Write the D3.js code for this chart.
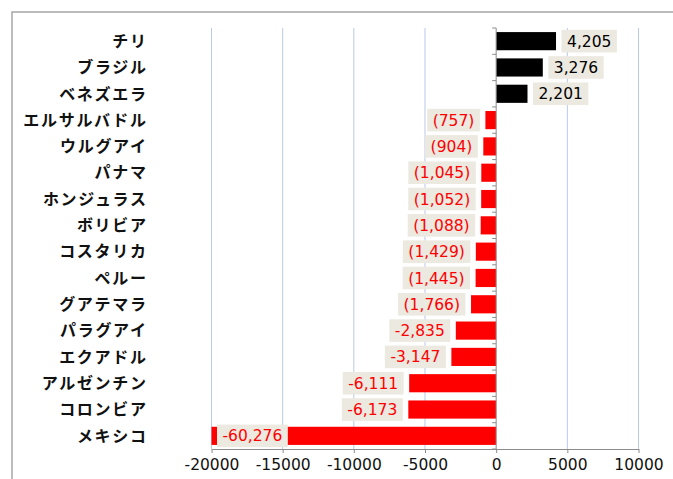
<!DOCTYPE html>
<html>
<head>
<meta charset="utf-8">
<script src="https://cdn.jsdelivr.net/npm/d3@7"></script>
<style>
  html, body { margin: 0; padding: 0; background: #fff; }
  svg { display: block; }
</style>
</head>
<body>
<svg id="chart" width="673" height="479"></svg>
<script>
// Net balance by country
const countries = ["チリ", "ブラジル", "ベネズエラ", "エルサルバドル", "ウルグアイ", "パナマ", "ホンジュラス", "ボリビア",
  "コスタリカ", "ペルー", "グアテマラ", "パラグアイ", "エクアドル", "アルゼンチン", "コロンビア", "メキシコ"];
const values = [4205, 3276, 2201, -757, -904, -1045, -1052, -1088,
  -1429, -1445, -1766, -2835, -3147, -6111, -6173, -60276];
// negative labels shown in accounting style (parentheses) vs. with a minus sign
const parenStyle = [false, false, false, true, true, true, true, true,
  true, true, true, false, false, false, false, false];
const xTicks = [-20000, -15000, -10000, -5000, 0, 5000, 10000];

const svg = d3.select("#chart");
const W = 673, H = 479;

// outer frame
svg.append("rect").attr("x", 12).attr("y", 12).attr("width", W).attr("height", H)
  .attr("fill", "#fff").attr("stroke", "#a6a6a6").attr("stroke-width", 1.5);

const plotTop = 28, plotBottom = 449;
const x = d3.scaleLinear().domain([-20000, 10000]).range([211.5, 638.5]);
const y = d3.scaleBand().domain(countries).range([plotTop, plotBottom]).paddingInner(0.31).paddingOuter(0.155);

// plain hyphen for negatives
const hy = s => s.replace("\u2212", "-");
const fmt = d3.format(",");
const numFont = "DejaVu Sans, Verdana, sans-serif";
const numSize = 15.5;

// vertical gridlines
svg.append("g").selectAll("line").data(xTicks.filter(t => t !== 0)).join("line")
  .attr("x1", d => x(d)).attr("x2", d => x(d))
  .attr("y1", plotTop).attr("y2", plotBottom)
  .attr("stroke", "#b9c9e8").attr("stroke-width", 1);

// x axis
const xAxis = d3.axisBottom(x).tickValues(xTicks).tickFormat(d => hy(d3.format("d")(d))).tickSize(4).tickSizeOuter(0);
const gx = svg.append("g").attr("transform", `translate(0,${plotBottom})`).call(xAxis);
gx.select(".domain").attr("stroke", "#8c8c8c").attr("stroke-width", 1);
gx.selectAll(".tick line").attr("stroke", "#8c8c8c");
gx.selectAll(".tick text").attr("font-family", numFont)
  .attr("font-size", numSize).attr("fill", "#111").attr("dy", "0.92em");

const clampMin = x.domain()[0];

// bars
svg.append("g").selectAll("rect").data(values).join("rect")
  .attr("x", d => x(Math.min(0, Math.max(d, clampMin))))
  .attr("width", d => Math.abs(x(Math.max(d, clampMin)) - x(0)))
  .attr("y", (d, i) => y(countries[i]))
  .attr("height", y.bandwidth())
  .attr("fill", d => d >= 0 ? "#000" : "#ff0000");

// y axis line at zero with ticks at band boundaries
const gy = svg.append("g");
gy.append("line").attr("x1", x(0)).attr("x2", x(0)).attr("y1", plotTop).attr("y2", plotBottom)
  .attr("stroke", "#8c8c8c").attr("stroke-width", 1);
gy.selectAll("line.tk").data(d3.range(countries.length + 1)).join("line").attr("class", "tk")
  .attr("x1", x(0) - 4).attr("x2", x(0))
  .attr("y1", i => plotTop + i * (plotBottom - plotTop) / countries.length)
  .attr("y2", i => plotTop + i * (plotBottom - plotTop) / countries.length)
  .attr("stroke", "#8c8c8c");

// category labels
const ls = 1.7;
svg.append("g").selectAll("text").data(countries).join("text")
  .attr("x", 146 + ls).attr("y", d => y(d) + y.bandwidth() / 2)
  .attr("dy", "0.36em").attr("text-anchor", "end")
  .attr("font-family", "Noto Sans CJK JP, sans-serif").attr("font-weight", "bold")
  .attr("font-size", 16).attr("letter-spacing", ls + "px").attr("fill", "#111")
  .text(d => d);

// value labels on beige boxes
const lg = svg.append("g");
values.forEach((v, i) => {
  const cy = y(countries[i]) + y.bandwidth() / 2;
  const label = v < 0 && parenStyle[i] ? `(${fmt(-v)})` : hy(fmt(v));
  const g = lg.append("g");
  const t = g.append("text").attr("font-family", numFont)
    .attr("font-size", numSize).attr("fill", v >= 0 ? "#000" : "#ff0000")
    .attr("y", cy).attr("dy", "0.36em").text(label);
  const tw = t.node().getComputedTextLength();
  const pad = 5.5, gap = 5.5;
  let bx;
  if (v >= 0) bx = x(v) + gap;
  else if (v < clampMin) bx = x(clampMin) + gap;
  else bx = x(v) - gap - tw - 2 * pad;
  t.attr("x", bx + pad);
  g.insert("rect", "text").attr("x", bx).attr("y", cy - 11.3)
    .attr("width", tw + 2 * pad).attr("height", 22.6).attr("fill", "#ece9e0");
});
</script>
</body>
</html>
